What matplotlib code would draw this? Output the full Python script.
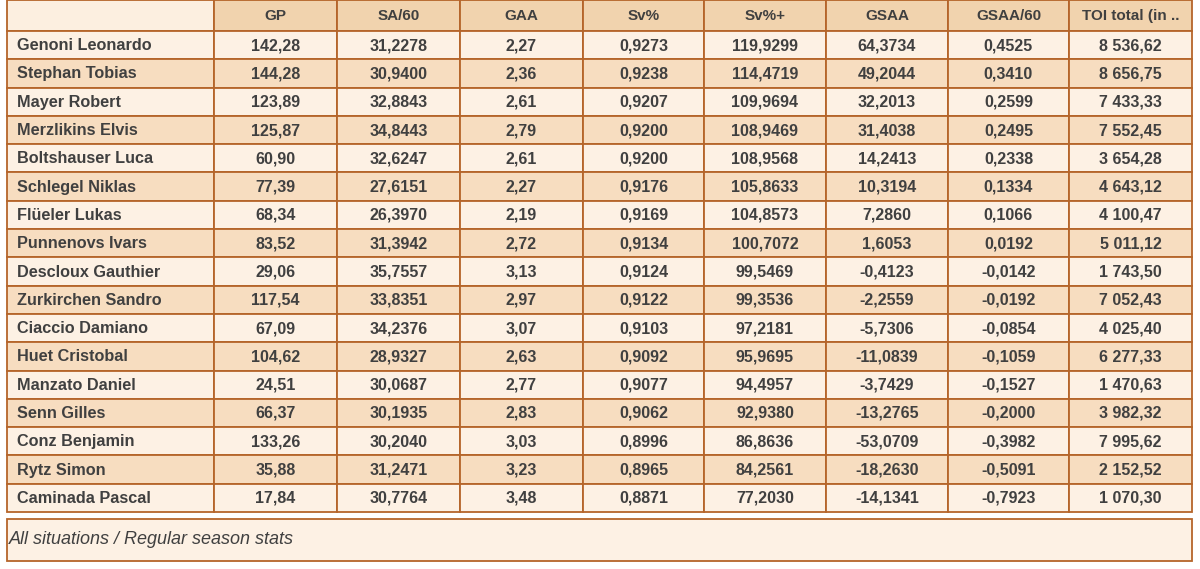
import matplotlib.pyplot as plt
from matplotlib.patches import Rectangle

# données du tableau
players = ["Genoni Leonardo", "Stephan Tobias", "Mayer Robert", "Merzlikins Elvis",
           "Boltshauser Luca", "Schlegel Niklas", "Flüeler Lukas", "Punnenovs Ivars",
           "Descloux Gauthier", "Zurkirchen Sandro", "Ciaccio Damiano", "Huet Cristobal",
           "Manzato Daniel", "Senn Gilles", "Conz Benjamin", "Rytz Simon", "Caminada Pascal"]
columns = ["GP", "SA/60", "GAA", "Sv%", "Sv%+", "GSAA", "GSAA/60", "TOI total (in .."]

gp = ["142,28", "144,28", "123,89", "125,87", "60,90", "77,39", "68,34", "83,52", "29,06",
      "117,54", "67,09", "104,62", "24,51", "66,37", "133,26", "35,88", "17,84"]
sa60 = ["31,2278", "30,9400", "32,8843", "34,8443", "32,6247", "27,6151", "26,3970", "31,3942",
        "35,7557", "33,8351", "34,2376", "28,9327", "30,0687", "30,1935", "30,2040", "31,2471",
        "30,7764"]
gaa = ["2,27", "2,36", "2,61", "2,79", "2,61", "2,27", "2,19", "2,72", "3,13", "2,97", "3,07",
       "2,63", "2,77", "2,83", "3,03", "3,23", "3,48"]
svpct = ["0,9273", "0,9238", "0,9207", "0,9200", "0,9200", "0,9176", "0,9169", "0,9134",
         "0,9124", "0,9122", "0,9103", "0,9092", "0,9077", "0,9062", "0,8996", "0,8965", "0,8871"]
svplus = ["119,9299", "114,4719", "109,9694", "108,9469", "108,9568", "105,8633", "104,8573",
          "100,7072", "99,5469", "99,3536", "97,2181", "95,9695", "94,4957", "92,9380",
          "86,8636", "84,2561", "77,2030"]
gsaa = ["64,3734", "49,2044", "32,2013", "31,4038", "14,2413", "10,3194", "7,2860", "1,6053",
        "-0,4123", "-2,2559", "-5,7306", "-11,0839", "-3,7429", "-13,2765", "-53,0709",
        "-18,2630", "-14,1341"]
gsaa60 = ["0,4525", "0,3410", "0,2599", "0,2495", "0,2338", "0,1334", "0,1066", "0,0192",
          "-0,0142", "-0,0192", "-0,0854", "-0,1059", "-0,1527", "-0,2000", "-0,3982",
          "-0,5091", "-0,7923"]
toi = ["8 536,62", "8 656,75", "7 433,33", "7 552,45", "3 654,28", "4 643,12", "4 100,47",
       "5 011,12", "1 743,50", "7 052,43", "4 025,40", "6 277,33", "1 470,63", "3 982,32",
       "7 995,62", "2 152,52", "1 070,30"]
note = "All situations / Regular season stats"

values = [gp, sa60, gaa, svpct, svplus, gsaa, gsaa60, toi]

# mise en page (pixels)
col_edges = [7, 214, 337, 460, 583, 704, 826, 948, 1069, 1192]
header_top, header_bot = 0, 31
row_h = (512 - 31) / len(players)

border = "#b5652a"
header_bg = "#f1d3ae"
corner_bg = "#fcefe0"
light_bg = "#fdf1e4"
dark_bg = "#f7ddc0"
text_col = "#404040"

plt.rcParams['font.family'] = ['Liberation Sans', 'DejaVu Sans']

fig = plt.figure(figsize=(12, 5.69), dpi=100)
ax = fig.add_axes([0, 0, 1, 1])
ax.set_xlim(0, 1200)
ax.set_ylim(569, 0)
ax.axis('off')

def cell(x0, y0, x1, y1, fc):
    ax.add_patch(Rectangle((x0, y0), x1 - x0, y1 - y0, facecolor=fc,
                           edgecolor=border, linewidth=1.3))

# en-tête
cell(col_edges[0], header_top, col_edges[1], header_bot, corner_bg)
for j, name in enumerate(columns):
    x0, x1 = col_edges[j + 1], col_edges[j + 2]
    cell(x0, header_top, x1, header_bot, header_bg)
    ax.text((x0 + x1) / 2, (header_top + header_bot) / 2 + 0.5, name, ha='center',
            va='center', fontsize=11, fontweight='bold', color=text_col)

# lignes
for i, p in enumerate(players):
    y0 = header_bot + i * row_h
    y1 = y0 + row_h
    fc = light_bg if i % 2 == 0 else dark_bg
    cell(col_edges[0], y0, col_edges[1], y1, fc)
    ax.text(col_edges[0] + 10, (y0 + y1) / 2 + 0.5, p, ha='left', va='center',
            fontsize=11.7, fontweight='bold', color=text_col)
    for j, vals in enumerate(values):
        x0, x1 = col_edges[j + 1], col_edges[j + 2]
        cell(x0, y0, x1, y1, fc)
        ax.text((x0 + x1) / 2, (y0 + y1) / 2 + 0.5, vals[i], ha='center', va='center',
                fontsize=11.5, fontweight='bold', color=text_col)

# note
cell(col_edges[0], 519, col_edges[-1], 561, light_bg)
ax.text(col_edges[0] + 2, 540, note, ha='left', va='center', fontsize=13,
        style='italic', color=text_col)

fig.savefig("out.png", dpi=100)
